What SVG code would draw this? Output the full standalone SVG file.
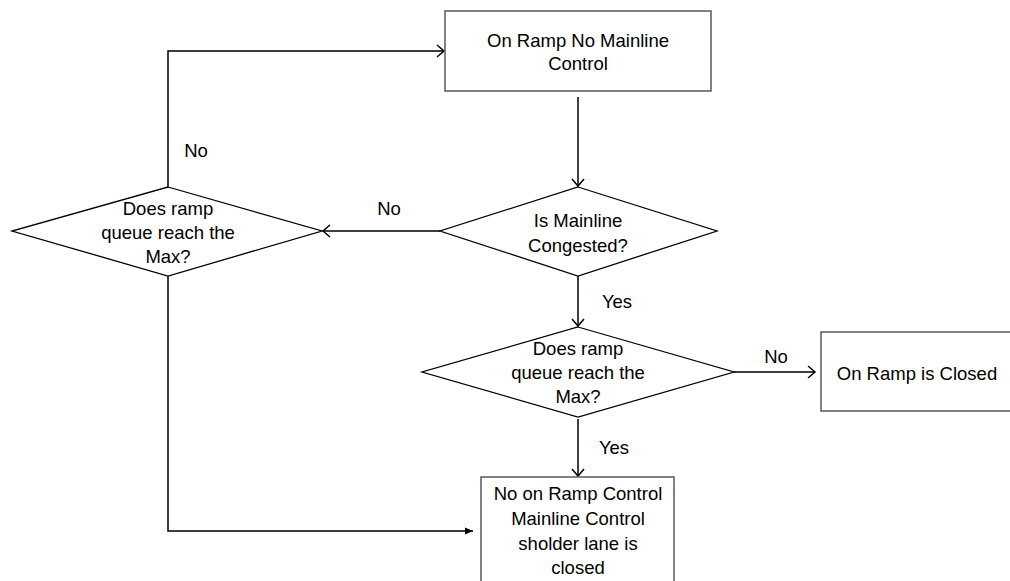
<svg xmlns="http://www.w3.org/2000/svg" width="1010" height="581" viewBox="0 0 1010 581">
<defs>
<style>
.box{fill:#fff;stroke:#595959;stroke-width:1.5}
.dia{fill:#fff;stroke:#000;stroke-width:1.3}
.ln{fill:none;stroke:#000;stroke-width:1.5}
text{font-family:"Liberation Sans",Arial,sans-serif;font-size:18.5px;fill:#000;text-anchor:middle;dominant-baseline:central}
</style>
<marker id="openArrow" markerWidth="12" markerHeight="14" refX="9" refY="7" orient="auto" markerUnits="userSpaceOnUse">
<path d="M2,1 L9,7 L2,13" fill="none" stroke="#000" stroke-width="1.5"/>
</marker>
<marker id="solidArrow" markerWidth="10" markerHeight="10" refX="8" refY="5" orient="auto" markerUnits="userSpaceOnUse">
<path d="M0,1.5 L8,5 L0,8.5 Z" fill="#000"/>
</marker>
</defs>
<rect width="1010" height="581" fill="#fff"/>
<g id="connectors">
<line class="ln" x1="578" y1="97" x2="578" y2="186" marker-end="url(#openArrow)"/>
<line class="ln" x1="440" y1="231" x2="323" y2="231" marker-end="url(#openArrow)"/>
<polyline class="ln" points="168,187 168,51 444,51" marker-end="url(#openArrow)"/>
<line class="ln" x1="578" y1="276" x2="578" y2="326" marker-end="url(#openArrow)"/>
<line class="ln" x1="734" y1="372" x2="815" y2="372" marker-end="url(#openArrow)"/>
<line class="ln" x1="578" y1="419" x2="578" y2="476" marker-end="url(#openArrow)"/>
<polyline class="ln" points="168,276 168,531 473,531" marker-end="url(#solidArrow)"/>
<text x="196" y="150">No</text>
<text x="389" y="208">No</text>
<text x="617" y="301">Yes</text>
<text x="776" y="356">No</text>
<text x="614" y="447">Yes</text>
</g>
<g id="n_top">
<rect class="box" x="445" y="11" width="266" height="80"/>
<text x="578" y="40">On Ramp No Mainline</text>
<text x="578" y="63">Control</text>
</g>
<g id="n_congested">
<polygon class="dia" points="578,187 717,231 578,276 440,231"/>
<text x="578" y="220">Is Mainline</text>
<text x="578" y="245">Congested?</text>
</g>
<g id="n_queue_left">
<polygon class="dia" points="168,187 322,231 168,276 12,231"/>
<text x="168" y="208">Does ramp</text>
<text x="168" y="232">queue reach the</text>
<text x="168" y="256">Max?</text>
</g>
<g id="n_queue_mid">
<polygon class="dia" points="578,327 734,372 578,417 422,372"/>
<text x="578" y="348">Does ramp</text>
<text x="578" y="372">queue reach the</text>
<text x="578" y="396">Max?</text>
</g>
<g id="n_closed">
<rect class="box" x="821" y="332" width="200" height="79"/>
<text x="917" y="373">On Ramp is Closed</text>
</g>
<g id="n_bottom">
<rect class="box" x="481" y="477" width="193" height="120"/>
<text x="578" y="493">No on Ramp Control</text>
<text x="578" y="518">Mainline Control</text>
<text x="578" y="543">sholder lane is</text>
<text x="578" y="567">closed</text>
</g>
</svg>
